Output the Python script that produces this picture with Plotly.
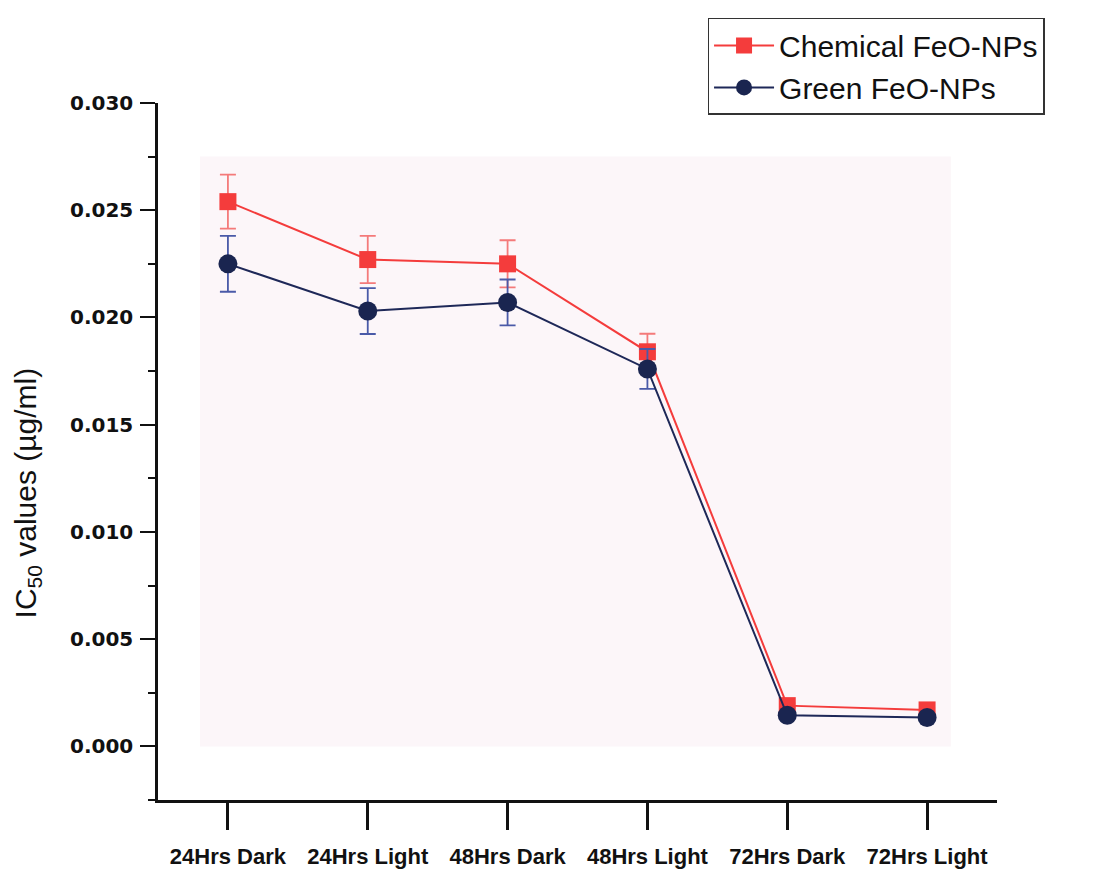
import plotly.graph_objects as go

categories = ["24Hrs Dark", "24Hrs Light", "48Hrs Dark", "48Hrs Light", "72Hrs Dark", "72Hrs Light"]
chemical = [0.0254, 0.0227, 0.0225, 0.0184, 0.0019, 0.0017]
chemical_err = [0.00126, 0.0011, 0.0011, 0.00084, 0.0001, 0.0001]
green = [0.0225, 0.0203, 0.0207, 0.0176, 0.00145, 0.00135]
green_err = [0.0013, 0.00107, 0.00107, 0.00093, 0.0001, 0.0001]
y_ticks = [0.000, 0.005, 0.010, 0.015, 0.020, 0.025, 0.030]
y_ticklabels = ["0.000", "0.005", "0.010", "0.015", "0.020", "0.025", "0.030"]

xs = list(range(len(categories)))

fig = go.Figure()
fig.add_trace(go.Scatter(
    x=xs, y=chemical, name="Chemical FeO-NPs", mode="lines+markers",
    line=dict(color="#f43c3c", width=2),
    marker=dict(symbol="square", size=17, color="#f43c3c"),
    error_y=dict(type="data", array=chemical_err, color="#f47a7a", thickness=1.8, width=8),
))
fig.add_trace(go.Scatter(
    x=xs, y=green, name="Green FeO-NPs", mode="lines+markers",
    line=dict(color="#1e2858", width=2),
    marker=dict(symbol="circle", size=19, color="#1a2550"),
    error_y=dict(type="data", array=green_err, color="#4a5aa8", thickness=1.8, width=8),
))

fig.add_shape(type="rect", xref="x", yref="y", x0=-0.2, x1=5.17, y0=0.0, y1=0.0275,
              fillcolor="#fcf6f9", line=dict(width=0), layer="below")

fig.add_annotation(text="IC<sub>50</sub> values (µg/ml)", xref="paper", yref="paper",
                   x=-0.156, y=0.44, xanchor="center", yanchor="middle", textangle=-90,
                   showarrow=False, font=dict(size=30, color="#111",
                                              family="Liberation Sans, Arial, sans-serif"))

fig.update_layout(
    width=1105, height=869,
    margin=dict(l=158, r=108, t=103, b=69),
    paper_bgcolor="white", plot_bgcolor="white",
    font=dict(family="Liberation Sans, Arial, sans-serif", color="#111"),
    showlegend=True,
    legend=dict(x=0.655, y=1.122, xanchor="left", yanchor="top",
                font=dict(size=30, color="#111"), bordercolor="#333", borderwidth=1.5,
                bgcolor="white", itemwidth=60, tracegroupgap=0),
)
fig.update_xaxes(
    range=[-0.5, 5.5], tickmode="array", tickvals=xs, ticktext=["<b>%s</b>" % c for c in categories],
    showline=True, linecolor="#111", linewidth=2.5, showgrid=False, zeroline=False,
    ticks="outside", ticklen=27, tickwidth=2.5, tickcolor="#111", ticklabelstandoff=8,
    automargin=False,
    tickfont=dict(size=22, family="Liberation Sans, Arial, sans-serif", color="#111"),
)
fig.update_yaxes(
    range=[-0.0025, 0.030], tickmode="array", tickvals=y_ticks,
    ticktext=["<b>%s</b>" % t for t in y_ticklabels],
    showline=True, linecolor="#111", linewidth=2.5, showgrid=False, zeroline=False,
    ticks="outside", ticklen=15, tickwidth=2, tickcolor="#111", ticklabelstandoff=3,
    automargin=False,
    minor=dict(dtick=0.0025, tick0=0.0025, ticks="outside", ticklen=7, tickwidth=1.5, tickcolor="#111"),
    tickfont=dict(size=20, family="DejaVu Sans, sans-serif", color="#111"),
)

fig.write_html("out.html")
